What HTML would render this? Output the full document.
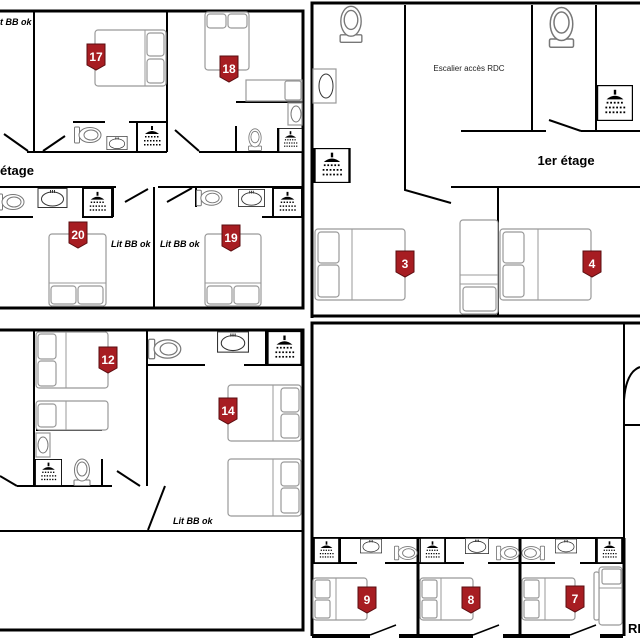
<!DOCTYPE html>
<html><head><meta charset="utf-8"><style>
html,body{margin:0;padding:0;background:#fff;width:640px;height:640px;overflow:hidden}
svg{display:block}
.w{stroke:#000;stroke-width:3;fill:none}
.i{stroke:#000;stroke-width:2;fill:none}
.f{stroke:#999;stroke-width:1.2;fill:#fff}
.bt text{font:bold 12px "Liberation Sans",sans-serif;fill:#fff;text-anchor:middle}
.lb{font:italic bold 9px "Liberation Sans",sans-serif;fill:#000}
</style></head><body>
<svg width="640" height="640" viewBox="0 0 640 640" xmlns="http://www.w3.org/2000/svg">
<defs>
<symbol id="sh" viewBox="0 0 30 30"><rect x="0" y="0" width="30" height="30" fill="#fff" stroke="#000" stroke-width="2"/><rect x="14" y="4" width="2" height="4" fill="#000"/><path d="M8 12 Q15 6 22 12 Z" fill="#000"/><g fill="#000"><rect x="8" y="14" width="1.5" height="1.5"/><rect x="11" y="14" width="1.5" height="1.5"/><rect x="14" y="14" width="1.5" height="1.5"/><rect x="17" y="14" width="1.5" height="1.5"/><rect x="20" y="14" width="1.5" height="1.5"/><rect x="7" y="18" width="1.5" height="1.5"/><rect x="10" y="18" width="1.5" height="1.5"/><rect x="13" y="18" width="1.5" height="1.5"/><rect x="16" y="18" width="1.5" height="1.5"/><rect x="19" y="18" width="1.5" height="1.5"/><rect x="22" y="18" width="1.5" height="1.5"/><rect x="7" y="22" width="1.5" height="1.5"/><rect x="10" y="22" width="1.5" height="1.5"/><rect x="13" y="22" width="1.5" height="1.5"/><rect x="16" y="22" width="1.5" height="1.5"/><rect x="19" y="22" width="1.5" height="1.5"/><rect x="22" y="22" width="1.5" height="1.5"/></g></symbol>
<symbol id="tl" viewBox="0 0 28 18"><rect x="0.5" y="1" width="5" height="16" rx="1" fill="#fff" stroke="#777"/><ellipse cx="16" cy="9" rx="11" ry="7.5" fill="#fff" stroke="#777"/><ellipse cx="17" cy="9" rx="7" ry="5" fill="none" stroke="#777"/></symbol>
<symbol id="tu" viewBox="0 0 18 28"><rect x="1" y="22" width="16" height="5.5" rx="1" fill="#fff" stroke="#777"/><ellipse cx="9" cy="12" rx="7.5" ry="11" fill="#fff" stroke="#777"/><ellipse cx="9" cy="11" rx="5" ry="7" fill="none" stroke="#777"/></symbol>
<symbol id="sk" viewBox="0 0 30 20"><rect x="0.5" y="0.5" width="29" height="19" fill="#fff" stroke="#333"/><ellipse cx="15" cy="11" rx="11" ry="7" fill="none" stroke="#333"/><path d="M13 2v3M15 2v3M17 2v3" stroke="#333"/></symbol>
</defs>

<!-- ========== TOP LEFT ========== -->
<path class="w" d="M0 11H303V308H0"/>
<path class="i" d="M34 11V152M167 11V152M27 152H167M199 152H303M73 122H105M129 122H167M137 122V152"/>
<path class="i" d="M4 134L28 151M43 151L65 136M175 130L199 151M236 102H303M236 126V152M278 128V152"/>
<text class="lb" x="0" y="25">t BB ok</text>
<!-- bed 17 -->
<rect class="f" x="95" y="30" width="71" height="56" rx="3"/><path stroke="#999" d="M145 30V86"/><rect class="f" x="147" y="33" width="17" height="23" rx="3"/><rect class="f" x="147" y="59" width="17" height="24" rx="3"/>
<use href="#tl" x="74" y="126" width="28" height="18"/><use href="#sk" x="106" y="136" width="22" height="14"/><use href="#sh" x="137" y="122" width="30" height="30"/>
<!-- room 18 -->
<rect class="f" x="205" y="12" width="44" height="58" rx="3"/><rect class="f" x="207" y="14" width="19" height="14" rx="3"/><rect class="f" x="228" y="14" width="19" height="14" rx="3"/>
<rect class="f" x="246" y="80" width="56" height="21"/><rect class="f" x="285" y="81" width="16" height="19" rx="2"/>
<rect class="f" x="288" y="103" width="14" height="22"/><ellipse cx="296" cy="114" rx="5" ry="8" fill="none" stroke="#777"/>
<use href="#tu" x="246" y="128" width="18" height="23"/><use href="#sh" x="278" y="128" width="25" height="24"/>
<text x="0" y="175" style="font:bold 13px 'Liberation Sans',sans-serif">étage</text>
<!-- lower row -->
<path class="i" d="M0 187H116M158 187H303M154 187V308M0 217H33M82 217H113M113 187V217M262 217H303M196 187V207"/>
<path class="i" d="M125 202L148 189M167 202L192 188"/>
<use href="#tl" x="-3" y="192" width="28" height="20"/><use href="#sk" x="37" y="188" width="31" height="20"/><use href="#sh" x="82" y="188" width="31" height="29"/>
<use href="#tl" x="196" y="189" width="27" height="18"/><use href="#sk" x="238" y="188" width="27" height="20"/><use href="#sh" x="272" y="188" width="31" height="29"/>
<rect class="f" x="49" y="234" width="57" height="72" rx="3"/><path stroke="#999" d="M49 283H106"/><rect class="f" x="51" y="286" width="25" height="18" rx="3"/><rect class="f" x="78" y="286" width="25" height="18" rx="3"/>
<rect class="f" x="205" y="234" width="56" height="72" rx="3"/><path stroke="#999" d="M205 283H261"/><rect class="f" x="207" y="286" width="25" height="18" rx="3"/><rect class="f" x="234" y="286" width="25" height="18" rx="3"/>
<text class="lb" x="111" y="247">Lit BB ok</text><text class="lb" x="160" y="247">Lit BB ok</text>

<!-- ========== TOP RIGHT ========== -->
<path class="w" d="M312 318V3H640M312 316H640"/>
<path class="i" d="M405 5V190L451 203M532 5V131M461 131H546M549 120L581 131M581 131H640M596 5V131M451 187H498M498 187V316M498 187H640"/>
<use href="#tu" x="338" y="5" width="26" height="38"/><use href="#tu" x="548" y="5" width="27" height="44"/>
<rect class="f" x="313" y="69" width="23" height="34" stroke="#333"/><ellipse cx="326" cy="86" rx="7" ry="12" fill="none" stroke="#333"/>
<use href="#sh" x="313" y="148" width="38" height="35"/><use href="#sh" x="597" y="85" width="36" height="36"/>
<text x="469" y="71" text-anchor="middle" style="font:8px 'Liberation Sans',sans-serif;fill:#222">Escalier accès RDC</text>
<text x="566" y="165" text-anchor="middle" style="font:bold 13px 'Liberation Sans',sans-serif">1er étage</text>
<rect class="f" x="315" y="229" width="90" height="71" rx="3"/><path stroke="#999" d="M352 229V300"/><rect class="f" x="318" y="232" width="21" height="31" rx="3"/><rect class="f" x="318" y="265" width="21" height="32" rx="3"/>
<rect class="f" x="500" y="229" width="91" height="71" rx="3"/><path stroke="#999" d="M538 229V300"/><rect class="f" x="503" y="232" width="21" height="31" rx="3"/><rect class="f" x="503" y="265" width="21" height="32" rx="3"/>
<rect class="f" x="460" y="220" width="38" height="94" rx="3"/><path stroke="#999" d="M460 275H498M460 284H498"/><rect class="f" x="463" y="287" width="33" height="24" rx="3"/>

<!-- ========== BOTTOM LEFT ========== -->
<path class="w" d="M0 330H303V630H0"/>
<path class="i" d="M34 330V486M147 330V486M17 486H112M0 476L17 486M117 471L140 486M36 430H102M102 459V486M147 365H205M244 365H303M266 331V365M165 486L148 530M0 531H303"/>
<rect class="f" x="36" y="332" width="72" height="56" rx="3"/><path stroke="#999" d="M66 332V388"/><rect class="f" x="38" y="334" width="18" height="25" rx="3"/><rect class="f" x="38" y="361" width="18" height="25" rx="3"/>
<rect class="f" x="36" y="401" width="72" height="29" rx="3"/><path stroke="#999" d="M66 401V430"/><rect class="f" x="38" y="404" width="18" height="23" rx="3"/>
<rect class="f" x="36" y="433" width="14" height="24"/><ellipse cx="43" cy="445" rx="5" ry="8" fill="none" stroke="#777"/>
<use href="#sh" x="35" y="459" width="27" height="27"/><use href="#tu" x="72" y="458" width="20" height="28"/>
<use href="#tl" x="148" y="335" width="34" height="28"/><use href="#sk" x="217" y="331" width="32" height="22"/><use href="#sh" x="266" y="331" width="37" height="34"/>
<rect class="f" x="228" y="385" width="73" height="56" rx="3"/><path stroke="#999" d="M273 385V441"/><rect class="f" x="281" y="388" width="18" height="24" rx="3"/><rect class="f" x="281" y="414" width="18" height="24" rx="3"/>
<rect class="f" x="228" y="459" width="73" height="57" rx="3"/><path stroke="#999" d="M273 459V516"/><rect class="f" x="281" y="462" width="18" height="24" rx="3"/><rect class="f" x="281" y="488" width="18" height="25" rx="3"/>
<text class="lb" x="173" y="524">Lit BB ok</text>

<!-- ========== BOTTOM RIGHT ========== -->
<path class="w" d="M312 636V323H640"/>
<path class="i" d="M624 323V538M624 425H640M312 538H624M340 538V563M313 563H357M385 563H418M445 538V563M418 563H464M488 563H520M596 538V563M520 563H555M580 563H624"/>
<path d="M624 400Q626 372 640 367" stroke="#000" stroke-width="2" fill="none"/>
<path stroke="#000" stroke-width="3" d="M418 538V636M520 538V636M624 538V636"/>
<path stroke="#000" stroke-width="4" d="M312 636H370M399 636H473M503 636H570M600 636H623"/>
<path stroke="#000" stroke-width="1.5" d="M370 635L396 625M473 635L499 625M570 635L596 625"/>
<use href="#sh" x="313" y="538" width="27" height="25"/><use href="#sk" x="360" y="538" width="22" height="16"/><use href="#tl" x="394" y="544" width="24" height="18"/>
<use href="#sh" x="420" y="538" width="25" height="25"/><use href="#sk" x="464" y="538" width="26" height="16"/><use href="#tl" x="496" y="544" width="24" height="18"/>
<g transform="translate(545 544) scale(-1 1)"><use href="#tl" x="0" y="0" width="24" height="18"/></g>
<use href="#sk" x="555" y="538" width="22" height="16"/><use href="#sh" x="596" y="538" width="27" height="25"/>
<rect class="f" x="313" y="578" width="54" height="42" rx="3"/><path stroke="#999" d="M336 578V620"/><rect class="f" x="315" y="580" width="15" height="18" rx="2"/><rect class="f" x="315" y="600" width="15" height="18" rx="2"/>
<rect class="f" x="420" y="578" width="53" height="42" rx="3"/><path stroke="#999" d="M441 578V620"/><rect class="f" x="422" y="580" width="15" height="18" rx="2"/><rect class="f" x="422" y="600" width="15" height="18" rx="2"/>
<rect class="f" x="522" y="578" width="53" height="42" rx="3"/><path stroke="#999" d="M545 578V620"/><rect class="f" x="524" y="580" width="15" height="18" rx="2"/><rect class="f" x="524" y="600" width="15" height="18" rx="2"/>
<rect class="f" x="599" y="567" width="23" height="58" rx="3"/><rect class="f" x="602" y="569" width="19" height="15" rx="2"/><path stroke="#999" d="M599 588H622"/><rect class="f" x="594" y="572" width="5" height="48" rx="2"/>
<text x="628" y="633" style="font:bold 13px 'Liberation Sans',sans-serif">RI</text>

<!-- ========== BADGES ========== -->
<g class="bt">
<g transform="translate(87 44)"><path d="M0 0H18V21L9 26L0 21Z" fill="#a71d22" stroke="#5a0d10"/><text x="9" y="17">17</text></g>
<g transform="translate(220 56)"><path d="M0 0H18V21L9 26L0 21Z" fill="#a71d22" stroke="#5a0d10"/><text x="9" y="17">18</text></g>
<g transform="translate(69 222)"><path d="M0 0H18V21L9 26L0 21Z" fill="#a71d22" stroke="#5a0d10"/><text x="9" y="17">20</text></g>
<g transform="translate(222 225)"><path d="M0 0H18V21L9 26L0 21Z" fill="#a71d22" stroke="#5a0d10"/><text x="9" y="17">19</text></g>
<g transform="translate(396 251)"><path d="M0 0H18V21L9 26L0 21Z" fill="#a71d22" stroke="#5a0d10"/><text x="9" y="17">3</text></g>
<g transform="translate(583 251)"><path d="M0 0H18V21L9 26L0 21Z" fill="#a71d22" stroke="#5a0d10"/><text x="9" y="17">4</text></g>
<g transform="translate(99 347)"><path d="M0 0H18V21L9 26L0 21Z" fill="#a71d22" stroke="#5a0d10"/><text x="9" y="17">12</text></g>
<g transform="translate(219 398)"><path d="M0 0H18V21L9 26L0 21Z" fill="#a71d22" stroke="#5a0d10"/><text x="9" y="17">14</text></g>
<g transform="translate(358 587)"><path d="M0 0H18V21L9 26L0 21Z" fill="#a71d22" stroke="#5a0d10"/><text x="9" y="17">9</text></g>
<g transform="translate(462 587)"><path d="M0 0H18V21L9 26L0 21Z" fill="#a71d22" stroke="#5a0d10"/><text x="9" y="17">8</text></g>
<g transform="translate(566 586)"><path d="M0 0H18V21L9 26L0 21Z" fill="#a71d22" stroke="#5a0d10"/><text x="9" y="17">7</text></g>
</g>
</svg>
</body></html>
